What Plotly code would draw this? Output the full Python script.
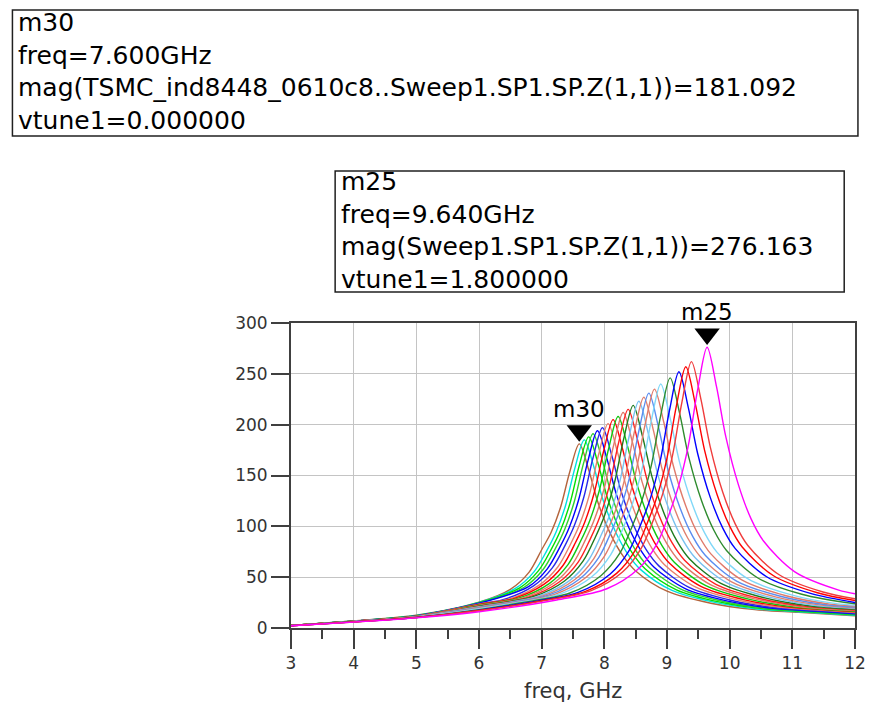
import plotly.graph_objects as go

# ---------------- data ----------------
curve_freqs = [
    [3, 4, 5, 6, 6.5, 6.8, 7.0, 7.15, 7.3, 7.45, 7.6, 7.75, 7.9, 8.1, 8.3, 8.5, 9.0, 9.7, 10.4, 11.1, 12],
    [3, 4, 5, 6, 6.58, 6.88, 7.08, 7.23, 7.38, 7.53, 7.68, 7.83, 7.98, 8.18, 8.38, 8.58, 9.08, 9.78, 10.48, 11.18, 12],
    [3, 4, 5, 6, 6.65, 6.95, 7.15, 7.3, 7.45, 7.6, 7.75, 7.9, 8.05, 8.25, 8.45, 8.65, 9.15, 9.85, 10.55, 11.25, 12],
    [3, 4, 5, 6, 6.72, 7.02, 7.22, 7.37, 7.52, 7.67, 7.82, 7.97, 8.12, 8.32, 8.52, 8.72, 9.22, 9.92, 10.62, 11.32, 12],
    [3, 4, 5, 6, 6.79, 7.09, 7.29, 7.44, 7.59, 7.74, 7.89, 8.04, 8.19, 8.39, 8.59, 8.79, 9.29, 9.99, 10.69, 11.39, 12],
    [3, 4, 5, 6, 6.37, 6.87, 7.17, 7.37, 7.52, 7.67, 7.82, 7.97, 8.12, 8.27, 8.47, 8.67, 8.87, 9.37, 10.07, 10.77, 11.47, 12],
    [3, 4, 5, 6, 6.46, 6.96, 7.26, 7.46, 7.61, 7.76, 7.91, 8.06, 8.21, 8.36, 8.56, 8.76, 8.96, 9.46, 10.16, 10.86, 11.56, 12],
    [3, 4, 5, 6, 6.54, 7.04, 7.34, 7.54, 7.69, 7.84, 7.99, 8.14, 8.29, 8.44, 8.64, 8.84, 9.04, 9.54, 10.24, 10.94, 11.64, 12],
    [3, 4, 5, 6, 6.62, 7.12, 7.42, 7.62, 7.77, 7.92, 8.07, 8.22, 8.37, 8.52, 8.72, 8.92, 9.12, 9.62, 10.32, 11.02, 12],
    [3, 4, 5, 6, 6.7, 7.2, 7.5, 7.7, 7.85, 8.0, 8.15, 8.3, 8.45, 8.6, 8.8, 9.0, 9.2, 9.7, 10.4, 11.1, 12],
    [3, 4, 5, 6, 6.78, 7.28, 7.58, 7.78, 7.93, 8.08, 8.23, 8.38, 8.53, 8.68, 8.88, 9.08, 9.28, 9.78, 10.48, 11.18, 12],
    [3, 4, 5, 6, 6.86, 7.36, 7.66, 7.86, 8.01, 8.16, 8.31, 8.46, 8.61, 8.76, 8.96, 9.16, 9.36, 9.86, 10.56, 11.26, 12],
    [3, 4, 5, 6, 6.95, 7.45, 7.75, 7.95, 8.1, 8.25, 8.4, 8.55, 8.7, 8.85, 9.05, 9.25, 9.45, 9.95, 10.65, 11.35, 12],
    [3, 4, 5, 6, 7.03, 7.53, 7.83, 8.03, 8.18, 8.33, 8.48, 8.63, 8.78, 8.93, 9.13, 9.33, 9.53, 10.03, 10.73, 11.43, 12],
    [3, 4, 5, 6, 6.31, 7.11, 7.61, 7.91, 8.11, 8.26, 8.41, 8.56, 8.71, 8.86, 9.01, 9.21, 9.41, 9.61, 10.11, 10.81, 11.51, 12],
    [3, 4, 5, 6, 6.4, 7.2, 7.7, 8.0, 8.2, 8.35, 8.5, 8.65, 8.8, 8.95, 9.1, 9.3, 9.5, 9.7, 10.2, 10.9, 11.6, 12],
    [3, 4, 5, 6, 6.5, 7.3, 7.8, 8.1, 8.3, 8.45, 8.6, 8.75, 8.9, 9.05, 9.2, 9.4, 9.6, 9.8, 10.3, 11.0, 11.7, 12],
    [3, 4, 5, 6, 6.65, 7.45, 7.95, 8.25, 8.45, 8.6, 8.75, 8.9, 9.05, 9.2, 9.35, 9.55, 9.75, 9.95, 10.45, 11.15, 12],
    [3, 4, 5, 6, 6.79, 7.59, 8.09, 8.39, 8.59, 8.74, 8.89, 9.04, 9.19, 9.34, 9.49, 9.69, 9.89, 10.09, 10.59, 11.29, 12],
    [3, 4, 5, 6, 6.9, 7.7, 8.2, 8.5, 8.7, 8.85, 9.0, 9.15, 9.3, 9.45, 9.6, 9.8, 10.0, 10.2, 10.7, 11.4, 12],
    [3, 4, 5, 6, 6.99, 7.79, 8.29, 8.59, 8.79, 8.94, 9.09, 9.24, 9.39, 9.54, 9.69, 9.89, 10.09, 10.29, 10.79, 11.49, 12],
    [3, 4, 5, 6, 7.24, 8.04, 8.54, 8.84, 9.04, 9.19, 9.34, 9.49, 9.64, 9.79, 9.94, 10.14, 10.34, 10.54, 11.04, 11.74, 12],
]

curve_mags = [
    [2.5, 7.0, 12.5, 25.3, 38.0, 55.0, 77.0, 94.0, 118.5, 154.0, 181.1, 155.7, 123.1, 92.3, 70.6, 56.1, 36.2, 24.4, 18.1, 15.4, 11.9],
    [2.5, 6.9, 12.4, 25.2, 38.9, 55.5, 75.9, 94.4, 120.3, 157.3, 185.0, 159.1, 125.8, 94.4, 72.2, 57.4, 37.0, 25.0, 18.5, 15.7, 12.5],
    [2.5, 6.9, 12.2, 24.9, 39.5, 56.4, 77.1, 95.9, 122.2, 159.8, 188.0, 161.7, 127.8, 95.9, 73.3, 58.3, 37.6, 25.4, 18.8, 16.0, 13.0],
    [2.5, 6.8, 12.0, 24.6, 40.1, 57.3, 78.3, 97.4, 124.2, 162.4, 191.0, 164.3, 129.9, 97.4, 74.5, 59.2, 38.2, 25.8, 19.1, 16.2, 13.5],
    [2.4, 6.8, 11.9, 24.3, 40.7, 58.2, 79.5, 98.9, 126.1, 164.9, 194.0, 166.8, 131.9, 98.9, 75.7, 60.1, 38.8, 26.2, 19.4, 16.5, 14.0],
    [2.4, 6.7, 11.8, 23.9, 27.6, 41.4, 59.1, 80.8, 100.5, 128.1, 167.5, 197.0, 169.4, 134.0, 100.5, 76.8, 61.1, 39.4, 26.6, 19.7, 16.7, 14.6],
    [2.4, 6.7, 11.7, 23.5, 28.1, 42.2, 60.3, 82.4, 102.5, 130.7, 170.9, 201.0, 172.9, 136.7, 102.5, 78.4, 62.3, 40.2, 27.1, 20.1, 17.1, 15.2],
    [2.4, 6.6, 11.6, 23.2, 28.7, 43.1, 61.5, 84.1, 104.6, 133.3, 174.3, 205.0, 176.3, 139.4, 104.6, 80.0, 63.6, 41.0, 27.7, 20.5, 17.4, 15.9],
    [2.4, 6.6, 11.5, 22.7, 29.1, 43.7, 62.4, 85.3, 106.1, 135.2, 176.8, 208.0, 178.9, 141.4, 106.1, 81.1, 64.5, 41.6, 28.1, 20.8, 16.5],
    [2.4, 6.5, 11.4, 22.3, 29.7, 44.5, 63.6, 86.9, 108.1, 137.8, 180.2, 212.0, 182.3, 144.2, 108.1, 82.7, 65.7, 42.4, 28.6, 21.2, 17.1],
    [2.4, 6.5, 11.3, 21.7, 30.1, 45.2, 64.5, 88.2, 109.7, 139.8, 182.8, 215.0, 184.9, 146.2, 109.7, 83.9, 66.7, 43.0, 29.0, 21.5, 17.7],
    [2.3, 6.4, 11.2, 21.4, 30.7, 46.0, 65.7, 89.8, 111.7, 142.4, 186.2, 219.0, 188.3, 148.9, 111.7, 85.4, 67.9, 43.8, 29.6, 21.9, 18.4],
    [2.3, 6.4, 11.1, 20.9, 31.2, 46.8, 66.9, 91.4, 113.7, 145.0, 189.6, 223.0, 191.8, 151.6, 113.7, 87.0, 69.1, 44.6, 30.1, 22.3, 19.2],
    [2.3, 6.3, 11.0, 20.5, 31.8, 47.7, 68.1, 93.1, 115.8, 147.6, 193.0, 227.0, 195.2, 154.4, 115.8, 88.5, 70.4, 45.4, 30.6, 22.7, 19.9],
    [2.3, 6.3, 10.9, 20.1, 23.1, 32.3, 48.5, 69.3, 94.7, 117.8, 150.2, 196.4, 231.0, 198.7, 157.1, 117.8, 90.1, 71.6, 46.2, 31.2, 23.1, 20.7],
    [2.3, 6.2, 10.8, 19.6, 23.5, 32.9, 49.4, 70.5, 96.4, 119.9, 152.8, 199.8, 235.0, 202.1, 159.8, 119.9, 91.7, 72.9, 47.0, 31.7, 23.5, 21.5],
    [2.3, 6.2, 10.7, 19.0, 24.0, 33.6, 50.4, 72.0, 98.4, 122.4, 156.0, 204.0, 240.0, 206.4, 163.2, 122.4, 93.6, 74.4, 48.0, 32.4, 24.0, 22.5],
    [2.2, 6.1, 10.5, 18.1, 24.6, 34.4, 51.7, 73.8, 100.9, 125.5, 159.9, 209.1, 246.0, 211.6, 167.3, 125.5, 95.9, 76.3, 49.2, 33.2, 23.8],
    [2.2, 6.0, 10.4, 17.6, 25.2, 35.3, 52.9, 75.6, 103.3, 128.5, 163.8, 214.2, 252.0, 216.7, 171.4, 128.5, 98.3, 78.1, 50.4, 34.0, 25.1],
    [2.2, 6.0, 10.3, 17.2, 25.7, 36.0, 54.0, 77.1, 105.4, 131.1, 167.1, 218.5, 257.0, 221.0, 174.8, 131.1, 100.2, 79.7, 51.4, 34.7, 27.0],
    [2.2, 5.9, 10.2, 17.0, 26.2, 36.7, 55.0, 78.6, 107.4, 133.6, 170.3, 222.7, 262.0, 225.3, 178.2, 133.6, 102.2, 81.2, 52.4, 35.4, 28.7],
    [2.2, 5.8, 10.0, 16.0, 27.6, 38.6, 58.0, 82.8, 113.2, 140.8, 179.4, 234.6, 276.2, 237.4, 187.7, 140.8, 107.6, 85.6, 55.2, 37.3, 33.7],
]

curve_colors = [
    "#B4643C", "#00E0E0", "#00E000", "#30D030", "#0000FF", "#2828E8",
    "#E8806C", "#FF0000", "#10C810", "#E07868", "#FF2020", "#1E7A1E",
    "#78C0F0", "#E08070", "#5A8CF0", "#E07A6A", "#80D8F8", "#2E8B2E",
    "#0000FF", "#FF0000", "#F03C3C", "#FF00FF",
]

marker_names = ["m30", "m25"]
marker_freqs = [7.600, 9.640]
marker_mags = [181.092, 276.163]

box1_lines = ["m30", "freq=7.600GHz",
              "mag(TSMC_ind8448_0610c8..Sweep1.SP1.SP.Z(1,1))=181.092",
              "vtune1=0.000000"]
box2_lines = ["m25", "freq=9.640GHz",
              "mag(Sweep1.SP1.SP.Z(1,1))=276.163",
              "vtune1=1.800000"]

x_ticks = list(range(3, 13))
y_ticks = [0, 50, 100, 150, 200, 250, 300]

# ---------------- layout geometry (pixels) ----------------
W, H = 875, 723
PL, PR, PT, PB = 291, 866, 323, 628   # plot area edges


def xp(px):
    return (px - PL) / (PR - PL)


def yp(py):
    return (PB - py) / (PB - PT)


FONT = "DejaVu Sans"
AX = "#404040"

fig = go.Figure()

for fx, my, col in zip(curve_freqs, curve_mags, curve_colors):
    fig.add_trace(go.Scatter(
        x=fx, y=my, mode="lines",
        line=dict(color=col, width=1.4, shape="spline", smoothing=0.9),
        hoverinfo="skip", showlegend=False))

# marker triangles just above the peak points
MARK_OFFSET = 13
fig.add_trace(go.Scatter(
    x=marker_freqs, y=[m + MARK_OFFSET for m in marker_mags], mode="markers",
    marker=dict(symbol="triangle-down", size=22, color="black"),
    hoverinfo="skip", showlegend=False))

for name, fq, mg in zip(marker_names, marker_freqs, marker_mags):
    fig.add_annotation(x=fq, y=mg, xref="x", yref="y", text=name,
                       showarrow=False, yanchor="middle", yshift=35,
                       font=dict(family=FONT, size=23, color="black"))

# info boxes
fig.add_shape(type="rect", xref="paper", yref="paper",
              x0=xp(7), x1=xp(869), y0=yp(136), y1=yp(10),
              line=dict(color="#202020", width=1.5), fillcolor="white")
fig.add_shape(type="rect", xref="paper", yref="paper",
              x0=xp(336), x1=xp(855), y0=yp(292), y1=yp(171),
              line=dict(color="#202020", width=1.5), fillcolor="white")

fig.add_annotation(x=xp(11), y=yp(71), xref="paper", yref="paper",
                   text="<br>".join(box1_lines), showarrow=False,
                   xanchor="left", yanchor="middle", align="left",
                   font=dict(family=FONT, size=25, color="black"))
fig.add_annotation(x=xp(340), y=yp(230), xref="paper", yref="paper",
                   text="<br>".join(box2_lines), showarrow=False,
                   xanchor="left", yanchor="middle", align="left",
                   font=dict(family=FONT, size=25, color="black"))

# x axis title
fig.add_annotation(x=xp(578), y=yp(705), xref="paper", yref="paper",
                   text="freq, GHz", showarrow=False,
                   font=dict(family=FONT, size=21, color="#333333"))

fig.update_layout(
    width=W, height=H,
    margin=dict(l=PL, r=W - PR, t=PT, b=H - PB, pad=0),
    paper_bgcolor="white", plot_bgcolor="white",
    font=dict(family=FONT, size=17, color="#333333"),
    showlegend=False,
)
fig.update_xaxes(
    range=[3, 12], tickvals=x_ticks, ticks="outside", ticklen=19,
    tickwidth=2, tickcolor=AX, showline=True, linewidth=2, linecolor=AX,
    mirror=True, showgrid=True, gridcolor="#c4c4c4", gridwidth=1,
    zeroline=False, tickfont=dict(family=FONT, size=17, color="#333333"),
    minor=dict(dtick=0.5, tick0=3, ticks="outside", ticklen=9, tickwidth=2,
               tickcolor=AX, showgrid=False),
)
fig.update_yaxes(
    range=[0, 300], tickvals=y_ticks, ticks="outside", ticklen=18,
    tickwidth=2, tickcolor=AX, showline=True, linewidth=2, linecolor=AX,
    mirror=True, showgrid=True, gridcolor="#c4c4c4", gridwidth=1,
    zeroline=False, tickfont=dict(family=FONT, size=17, color="#333333"),
)

fig.write_html("out.html")
